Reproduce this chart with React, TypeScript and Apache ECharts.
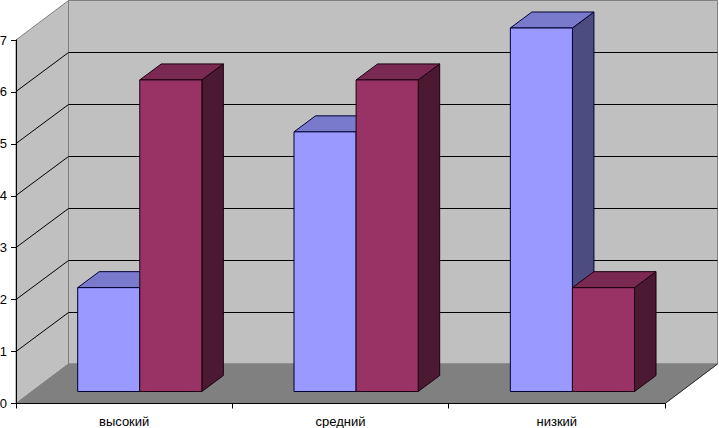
import React, { useEffect, useRef } from "react";
import * as echarts from "echarts";

const categories = ["высокий", "средний", "низкий"];
const seriesA = [2, 5, 7];
const seriesB = [6, 6, 2];
const yTicks = [0, 1, 2, 3, 4, 5, 6, 7];

const WALL_DX = 52.5;
const WALL_DY = -39.5;
const PLANE_DX = 15.6;
const PLANE_DY = -12;
const DEPTH_DX = 21.5;
const DEPTH_DY = -16;
const BAR_RATIO = 0.287;

const FONT = "Liberation Sans";

function roomItem(params: any, api: any) {
  const g = params.coordSys;
  const x0 = g.x, x1 = g.x + g.width, yT = g.y, yB = g.y + g.height;
  const wall = { fill: "#c0c0c0", stroke: "#808080", lineWidth: 1 };
  return {
    type: "group",
    children: [
      { type: "polygon", shape: { points: [[x0 + WALL_DX, yT + WALL_DY], [x1 + WALL_DX, yT + WALL_DY], [x1 + WALL_DX, yB + WALL_DY], [x0 + WALL_DX, yB + WALL_DY]] }, style: wall },
      { type: "polygon", shape: { points: [[x0, yT], [x0 + WALL_DX, yT + WALL_DY], [x0 + WALL_DX, yB + WALL_DY], [x0, yB]] }, style: wall },
      { type: "polygon", shape: { points: [[x0, yB], [x1, yB], [x1 + WALL_DX, yB + WALL_DY], [x0 + WALL_DX, yB + WALL_DY]] }, style: { fill: "#808080", stroke: "#808080", lineWidth: 1 } },
      { type: "line", shape: { x1: x1, y1: yB, x2: x1 + WALL_DX, y2: yB + WALL_DY }, style: { stroke: "#303030", lineWidth: 1 } },
    ],
  };
}

function gridItem(params: any, api: any) {
  const g = params.coordSys;
  const raw = api.coord([0, api.value(0)])[1];
  const yFront = Math.floor(raw) + 0.5;
  const yBack = Math.floor(raw + WALL_DY) + 0.5;
  const x0 = g.x, x1 = g.x + g.width;
  return {
    type: "polyline",
    shape: { points: [[x0, yFront], [x0 + WALL_DX, yBack], [x1 + WALL_DX, yBack]] },
    style: { fill: "none", stroke: "#000000", lineWidth: 1 },
  };
}

function barItem(side: -1 | 1, face: string, top: string, right: string, edge: string) {
  return (params: any, api: any) => {
    const p = api.coord([api.value(0), api.value(1)]);
    const base = api.coord([api.value(0), 0]);
    const w = api.size([1, 0])[0] * BAR_RATIO;
    const cx = p[0] + PLANE_DX;
    const xL = side < 0 ? cx - w : cx;
    const xR = xL + w;
    const yT = p[1] + PLANE_DY;
    const yB = base[1] + PLANE_DY;
    const st = (fill: string) => ({ fill, stroke: edge, lineWidth: 1 });
    return {
      type: "group",
      children: [
        { type: "polygon", shape: { points: [[xR, yT], [xR + DEPTH_DX, yT + DEPTH_DY], [xR + DEPTH_DX, yB + DEPTH_DY], [xR, yB]] }, style: st(right) },
        { type: "polygon", shape: { points: [[xL, yT], [xL + DEPTH_DX, yT + DEPTH_DY], [xR + DEPTH_DX, yT + DEPTH_DY], [xR, yT]] }, style: st(top) },
        { type: "rect", shape: { x: xL, y: yT, width: w, height: yB - yT }, style: st(face) },
      ],
    };
  };
}

export default function App() {
  const ref = useRef<HTMLDivElement>(null);
  useEffect(() => {
    document.body.style.margin = "0";
    const chart = echarts.init(ref.current!, undefined, { renderer: "svg" });
    chart.setOption({
      animation: false,
      backgroundColor: "#ffffff",
      tooltip: { show: false },
      grid: { left: 16, top: 40, width: 649, height: 363.5, outerBoundsMode: "none" },
      xAxis: {
        type: "category",
        data: categories,
        z: 100,
        axisLine: { show: true, lineStyle: { color: "#000000", width: 1 } },
        axisTick: { show: true, alignWithLabel: false, length: 5, lineStyle: { color: "#000000", width: 1 } },
        axisLabel: { color: "#000000", fontFamily: FONT, fontSize: 13, margin: 11 },
        splitLine: { show: false },
      },
      yAxis: {
        type: "value",
        min: 0,
        max: 7,
        interval: 1,
        z: 100,
        axisLine: { show: true, lineStyle: { color: "#000000", width: 1 } },
        axisTick: { show: true, length: 5, lineStyle: { color: "#000000", width: 1 } },
        axisLabel: { color: "#000000", fontFamily: FONT, fontSize: 13, margin: 9 },
        splitLine: { show: false },
      },
      series: [
        { type: "custom", silent: true, data: [[0]], renderItem: roomItem, z: 1, encode: { y: 0 } },
        { type: "custom", silent: true, data: yTicks.slice(1, -1).map((t) => [t]), renderItem: gridItem, z: 2, encode: { y: 0 } },
        { type: "custom", silent: true, data: seriesA.map((v, i) => [i, v]), renderItem: barItem(-1, "#9999ff", "#7a7acc", "#4c4c80", "#000033"), z: 3, encode: { x: 0, y: 1 } },
        { type: "custom", silent: true, data: seriesB.map((v, i) => [i, v]), renderItem: barItem(1, "#993366", "#7a2952", "#4c1933", "#1a0010"), z: 4, encode: { x: 0, y: 1 } },
      ],
    });
    return () => chart.dispose();
  }, []);
  return <div ref={ref} style={{ width: 719, height: 428 }} />;
}
